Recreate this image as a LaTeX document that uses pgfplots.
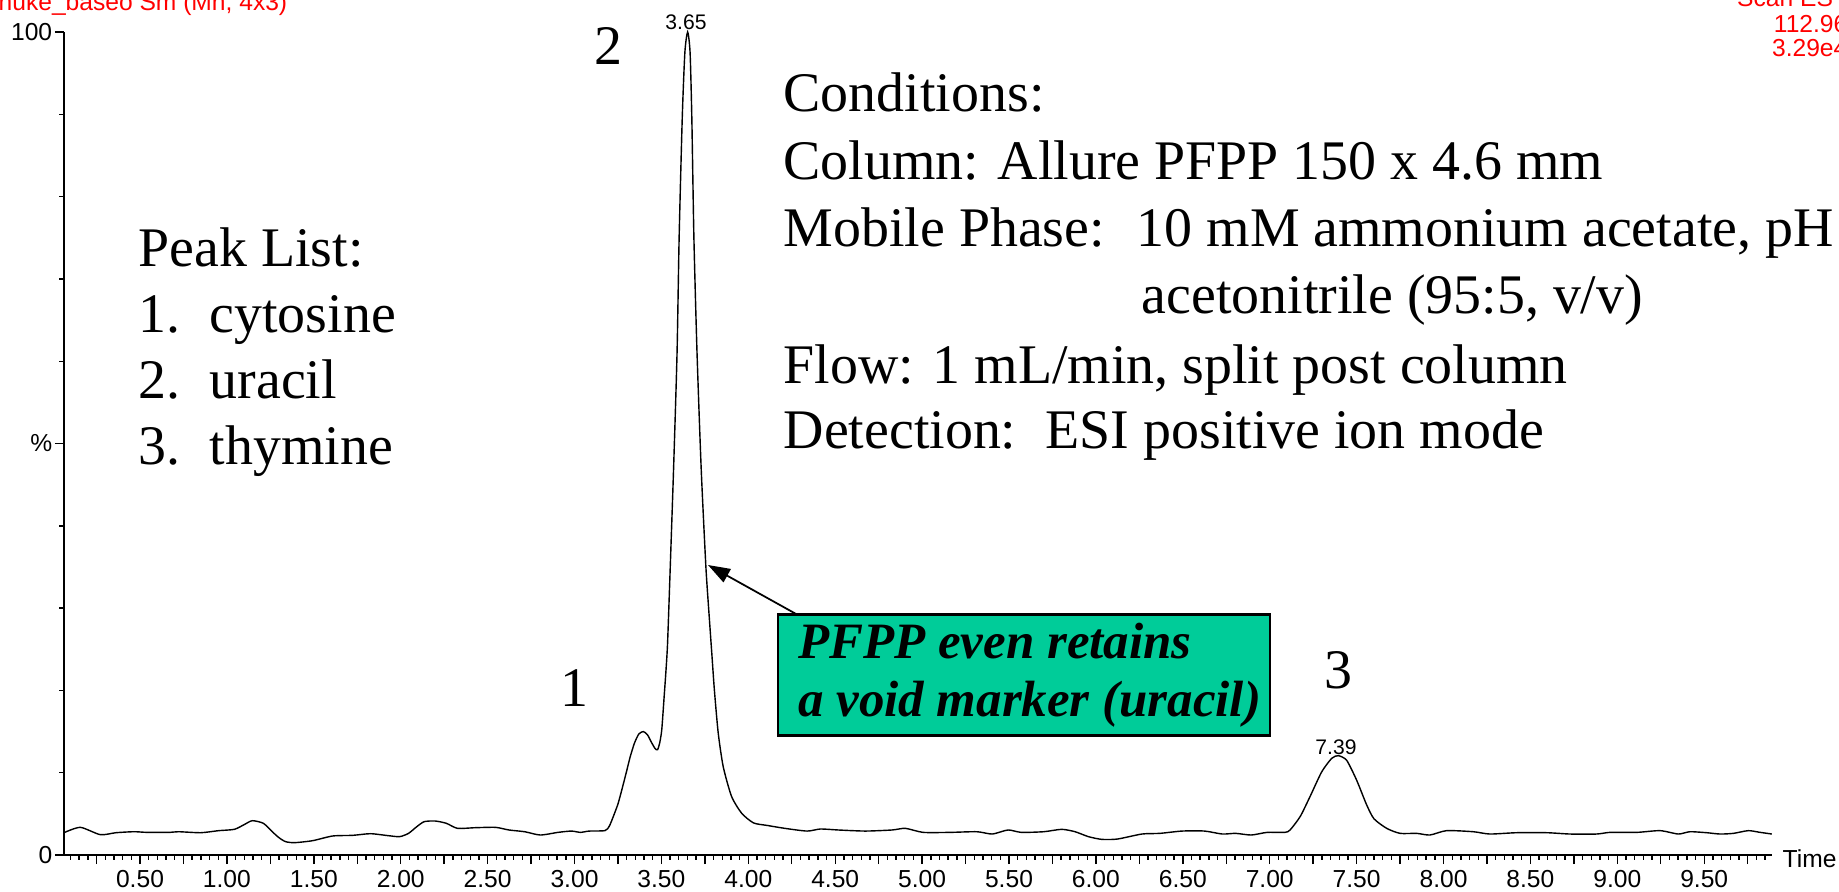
\documentclass[border=0pt]{standalone}
\usepackage{fontspec}
\setmainfont{Liberation Serif}
\newfontfamily\arial{Liberation Sans}
\usepackage{pgfplots}
\pgfplotsset{compat=1.18}
\usetikzlibrary{arrows.meta}
\definecolor{boxgreen}{RGB}{0,204,153}
\definecolor{lynxred}{RGB}{255,0,0}

\pgfplotstableread{
t p
0.067 2.75
0.157 3.36
0.272 2.47
0.362 2.71
0.465 2.83
0.542 2.75
0.670 2.75
0.722 2.83
0.850 2.71
0.953 2.96
1.043 3.12
1.100 3.70
1.146 4.17
1.210 3.85
1.261 2.83
1.300 2.10
1.338 1.62
1.390 1.50
1.493 1.74
1.608 2.31
1.724 2.39
1.826 2.59
1.929 2.35
1.994 2.23
2.045 2.63
2.090 3.40
2.135 4.05
2.199 4.13
2.263 3.85
2.327 3.24
2.430 3.32
2.546 3.36
2.623 3.04
2.713 2.83
2.803 2.43
2.905 2.75
2.982 2.91
3.034 2.75
3.085 2.91
3.175 2.96
3.200 3.50
3.223 4.66
3.250 6.20
3.272 7.90
3.300 10.2
3.320 11.9
3.345 13.6
3.370 14.7
3.396 15.0
3.420 14.6
3.445 13.6
3.465 12.9
3.478 12.8
3.490 13.6
3.502 15.2
3.515 19.0
3.525 22.0
3.535 25.5
3.547 32.6
3.570 46.9
3.590 61.0
3.602 75.0
3.620 89.6
3.635 97.5
3.651 100
3.665 97.5
3.675 89.6
3.687 75.0
3.705 61.0
3.729 46.9
3.756 35.0
3.775 29.0
3.790 24.5
3.805 20.0
3.827 14.8
3.856 10.7
3.904 7.10
3.962 5.07
4.030 3.90
4.107 3.60
4.210 3.24
4.338 2.91
4.415 3.16
4.518 3.04
4.673 2.91
4.827 3.04
4.904 3.24
5.006 2.75
5.161 2.75
5.315 2.83
5.404 2.55
5.494 3.04
5.571 2.75
5.700 2.83
5.803 3.12
5.880 2.83
5.957 2.23
6.034 1.90
6.124 1.94
6.265 2.55
6.368 2.63
6.496 2.91
6.625 2.91
6.727 2.55
6.804 2.63
6.894 2.43
6.985 2.75
7.087 2.75
7.117 3.04
7.175 4.66
7.232 7.10
7.299 10.1
7.357 11.75
7.395 12.07
7.443 11.5
7.500 9.10
7.558 6.08
7.600 4.40
7.673 3.24
7.750 2.63
7.846 2.63
7.922 2.43
8.018 2.96
8.171 2.83
8.267 2.55
8.421 2.71
8.594 2.71
8.728 2.55
8.881 2.55
8.958 2.75
9.112 2.75
9.246 2.96
9.351 2.55
9.418 2.83
9.514 2.71
9.591 2.55
9.668 2.63
9.754 2.96
9.822 2.75
9.889 2.55
}\chrom

\begin{document}
\begin{tikzpicture}
\useasboundingbox (0,0) rectangle (18.39,8.91);
\begin{axis}[
  at={(0.64cm,0.36cm)}, anchor=south west,
  scale only axis, width=17.08cm, height=8.23cm,
  xmin=0.0627, xmax=9.89, ymin=0, ymax=100,
  axis lines=left, axis line style={-, line width=0.45pt},
  tick align=outside,
  xtick={0.5,1,...,9.5},
  xticklabels={0.50,1.00,1.50,2.00,2.50,3.00,3.50,4.00,4.50,5.00,5.50,6.00,6.50,7.00,7.50,8.00,8.50,9.00,9.50},
  extra x ticks={0.25,0.75,...,9.75}, extra x tick labels={},
  extra x tick style={grid=none},
  minor xtick={0.1,0.15,...,9.86},
  ytick={0,50,100}, yticklabels={0,\%,100},
  minor ytick={10,20,30,40,60,70,80,90},
  major tick length=0.09cm, minor tick length=0.045cm,
  every tick/.style={black, line width=0.4pt},
  ticklabel style={font=\arial\fontsize{7}{8}\selectfont, text=black},
  yticklabel style={inner sep=0.6pt},
  xticklabel style={inner sep=1.5pt},
  clip=false,
]
\addplot[black, line width=0.4pt, smooth, tension=0.4] table[x=t, y=p] {\chrom};
\end{axis}

% axis title
\node[anchor=base west, inner sep=0, font=\arial\fontsize{7}{8}\selectfont] at (17.82,0.24) {Time};

% red header texts
\node[anchor=base west, inner sep=0, text=lynxred, font=\arial\fontsize{7}{8}\selectfont] at (-0.02,8.81) {nuke\_baseo Sm (Mn, 4x3)};
\node[anchor=base east, inner sep=0, text=lynxred, font=\arial\fontsize{7}{8}\selectfont] at (18.48,8.84) {Scan ES+};
\node[anchor=base east, inner sep=0, text=lynxred, font=\arial\fontsize{7}{8}\selectfont] at (18.48,8.585) {112.96};
\node[anchor=base east, inner sep=0, text=lynxred, font=\arial\fontsize{7}{8}\selectfont] at (18.48,8.35) {3.29e4};

% peak apex labels
\node[anchor=base, inner sep=0, font=\arial\fontsize{6}{7}\selectfont] at (6.86,8.62) {3.65};
\node[anchor=base, inner sep=0, font=\arial\fontsize{6}{7}\selectfont] at (13.36,1.37) {7.39};

% peak numbers
\node[anchor=base, inner sep=0, font=\fontsize{15.9}{19}\selectfont] at (6.08,8.265) {2};
\node[anchor=base, inner sep=0, font=\fontsize{15.9}{19}\selectfont] at (5.74,1.85) {1};
\node[anchor=base, inner sep=0, font=\fontsize{15.9}{19}\selectfont] at (13.38,2.03) {3};

% peak list
\begin{scope}[every node/.style={anchor=base west, inner sep=0, font=\fontsize{15.9}{19}\selectfont}]
\node at (1.38,6.25) {Peak List:};
\node at (1.38,5.59) {1.}; \node at (2.09,5.59) {cytosine};
\node at (1.38,4.93) {2.}; \node at (2.09,4.93) {uracil};
\node at (1.38,4.27) {3.}; \node at (2.09,4.27) {thymine};
% conditions
\node at (7.83,7.80) {Conditions:};
\node at (7.83,7.12) {Column: Allure PFPP 150 x 4.6 mm};
\node at (7.83,6.45) {Mobile Phase:};
\node at (11.36,6.45) {10 mM ammonium acetate, pH};
\node at (11.41,5.78) {acetonitrile (95:5, v/v)};
\node at (7.83,5.08) {Flow: 1 mL/min, split post column};
\node at (7.83,4.43) {Detection:};
\node at (10.45,4.43) {ESI positive ion mode};
\end{scope}

% callout
\draw[-{Triangle[length=0.22cm,width=0.15cm]}, line width=0.5pt] (7.97,2.765) -- (7.08,3.26);
\draw[fill=boxgreen, line width=0.8pt] (7.78,1.557) rectangle (12.70,2.765);
\node[anchor=base west, inner sep=0, font=\fontsize{14.5}{17}\selectfont\bfseries\itshape] at (7.975,2.33) {PFPP even retains};
\node[anchor=base west, inner sep=0, font=\fontsize{14.5}{17}\selectfont\bfseries\itshape] at (7.975,1.745) {a void marker (uracil)};
\end{tikzpicture}
\end{document}
